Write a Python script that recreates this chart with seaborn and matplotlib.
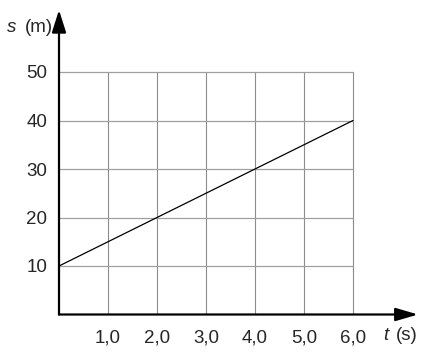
import matplotlib
matplotlib.use("Agg")
import matplotlib.pyplot as plt
import seaborn as sns
import pandas as pd

t_vals = [0, 6]
s_vals = [10, 40]
x_ticks = [0, 1, 2, 3, 4, 5, 6]
x_labels = ["", "1,0", "2,0", "3,0", "4,0", "5,0", "6,0"]
y_ticks = [0, 10, 20, 30, 40, 50]
y_labels = ["", "10", "20", "30", "40", "50"]

sns.set_style("white")
plt.rcParams['font.family'] = ['Liberation Sans', 'DejaVu Sans']

FS = 13.5

fig = plt.figure(figsize=(4.32, 3.57), dpi=100)
ax = fig.add_axes([59/432, 42.5/357, (418-59)/432, (314.5-10)/357])
ax.set_xlim(0, (418-59)/49.0)
ax.set_ylim(0, (314.5-10)/4.85)

# grid
for x in x_ticks[1:]:
    ax.plot([x, x], [0, 50], color="#8c8c8c", lw=0.8, zorder=1)
for y in y_ticks[1:]:
    ax.plot([0, 6], [y, y], color="#a0a0a0", lw=0.9, zorder=1)

df = pd.DataFrame({"t": t_vals, "s": s_vals})
sns.lineplot(data=df, x="t", y="s", ax=ax, color="black", lw=0.9, zorder=3)

for sp in ax.spines.values():
    sp.set_visible(False)

ax.set_xticks(x_ticks)
ax.set_xticklabels(x_labels, fontsize=FS)
ax.set_yticks(y_ticks)
ax.set_yticklabels(y_labels, fontsize=FS)
ax.tick_params(axis="both", length=3, width=0.8, color="black")
ax.tick_params(axis="y", pad=5.5)
ax.tick_params(axis="x", pad=8)
ax.set_xlabel("")
ax.set_ylabel("")

# axes arrows
ax.annotate("", xy=(1, 0), xytext=(0, 0), xycoords="axes fraction",
            arrowprops=dict(arrowstyle="-|>,head_length=0.85,head_width=0.25",
                            color="black", lw=1.6, mutation_scale=16, shrinkA=0, shrinkB=0))
ax.annotate("", xy=(0, 1), xytext=(0, 0), xycoords="axes fraction",
            arrowprops=dict(arrowstyle="-|>,head_length=0.85,head_width=0.27",
                            color="black", lw=1.6, mutation_scale=16, shrinkA=0, shrinkB=0))

# axis labels: italic variable + upright unit, sharing a baseline
ys = 1 - 32/357
fig.text(7/432, ys, "s", ha="left", va="baseline", fontsize=FS, style="italic")
fig.text(53/432, ys, "(m)", ha="right", va="baseline", fontsize=FS)
yt = 1 - 340/357
fig.text(383/432, yt, "t", ha="left", va="baseline", fontsize=FS, style="italic")
fig.text(418/432, yt, "(s)", ha="right", va="baseline", fontsize=FS)

fig.savefig("out.png", dpi=100)
